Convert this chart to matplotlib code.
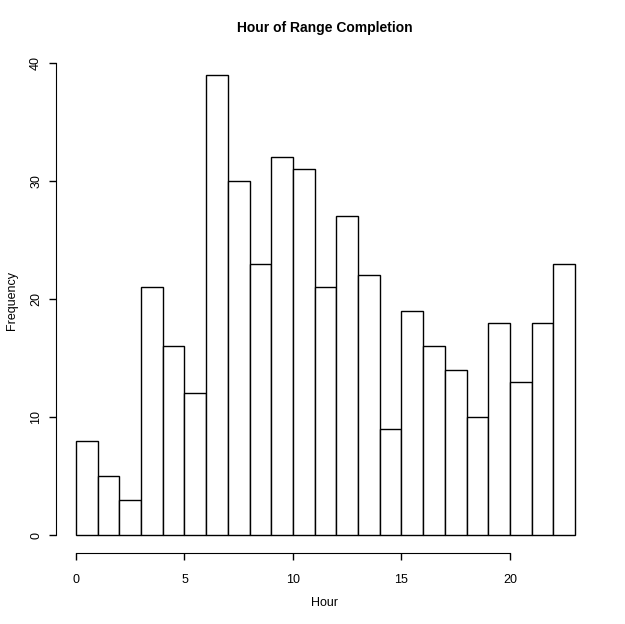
import matplotlib
matplotlib.use('Agg')
import matplotlib.pyplot as plt

# hour bins (left edges) and counts
hours = list(range(0, 23))
counts = [8, 5, 3, 21, 16, 12, 39, 30, 23, 32, 31, 21,
          27, 22, 9, 19, 16, 14, 10, 18, 13, 18, 23]
xticks = [0, 5, 10, 15, 20]
yticks = [0, 10, 20, 30, 40]

plt.rcParams['font.family'] = ['Liberation Sans', 'DejaVu Sans']

fig = plt.figure(figsize=(6.25, 6.24), dpi=100)
ax = fig.add_axes([0.0896, 0.1131, 0.8624, 0.7965])

ax.bar(hours, counts, width=1, align='edge', facecolor='white',
       edgecolor='black', linewidth=1)

ax.set_xlim(-0.92, 23.92)
ax.set_ylim(-1.56, 40.56)

# R-style detached axes
for s in ['top', 'right']:
    ax.spines[s].set_visible(False)
ax.spines['bottom'].set_bounds(0, 20)
ax.spines['left'].set_bounds(0, 40)
ax.set_xticks(xticks)
ax.set_yticks(yticks)
ax.tick_params(axis='both', length=5, width=1, labelsize=9)
ax.tick_params(axis='x', pad=10)
ax.tick_params(axis='y', pad=5)
for lab in ax.get_yticklabels():
    lab.set_rotation(90)
    lab.set_va('center')

fig.text(325 / 625, 1 - 603 / 624, 'Hour', fontsize=9, ha='center', va='center')
fig.text(12 / 625, 1 - 300 / 624, 'Frequency', fontsize=9, ha='center',
         va='center', rotation=90)
fig.text(325 / 625, 1 - 28 / 624, 'Hour of Range Completion', fontsize=10,
         fontweight='bold', ha='center', va='center')

fig.savefig('out.png', dpi=100)
